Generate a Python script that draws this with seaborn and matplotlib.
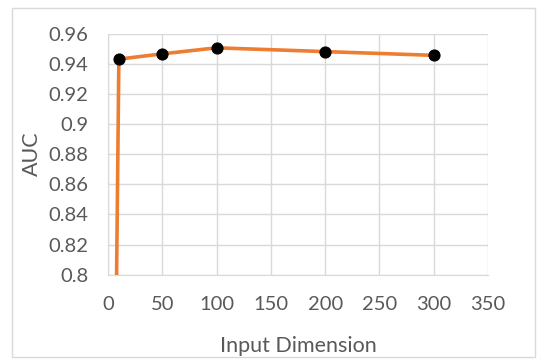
import matplotlib
matplotlib.use("Agg")
import matplotlib.pyplot as plt
import seaborn as sns
from matplotlib.patches import Rectangle
from matplotlib.ticker import FuncFormatter

# valores (el primer punto queda fuera del eje, recortado)
input_dim = [5, 10, 50, 100, 200, 300]
auc = [0.6, 0.943, 0.9465, 0.9505, 0.948, 0.9455]

sns.set_style("white")
plt.rcParams["font.family"] = ["Lato", "DejaVu Sans"]
gray = "#595959"
grid = "#d9d9d9"

fig = plt.figure(figsize=(5.47, 3.59), dpi=100)
ax = fig.add_axes([108 / 547, 1 - 274.7 / 359, 380 / 547, 241.2 / 359])

sns.lineplot(x=input_dim, y=auc, ax=ax, color="#ED7D31", linewidth=2.6,
             marker="o", markersize=8, markerfacecolor="black",
             markeredgecolor="black", zorder=3)

ax.set_xlim(0, 350)
ax.set_ylim(0.8, 0.96)
ax.set_xticks(range(0, 351, 50))
ax.set_yticks([0.8 + 0.02 * i for i in range(9)])
ax.yaxis.set_major_formatter(FuncFormatter(lambda v, p: f"{v:.2f}".rstrip("0")))
ax.grid(True, color=grid, linewidth=1)
ax.set_axisbelow(True)
for s in ax.spines.values():
    s.set_visible(False)
ax.spines["left"].set_visible(True)
ax.spines["left"].set_color(grid)
ax.spines["bottom"].set_visible(True)
ax.spines["bottom"].set_color(grid)
ax.tick_params(axis="y", length=0, labelsize=14.5, labelcolor=gray, pad=14)
ax.tick_params(axis="x", length=0, labelsize=14.5, labelcolor=gray, pad=15)
ax.set_xlabel("Input Dimension", fontsize=15.5, color=gray, labelpad=17)
ax.set_ylabel("AUC", fontsize=15.5, color=gray, labelpad=5)

fig.patches.append(Rectangle((12 / 547, 2 / 359), 523 / 547, 349 / 359,
                             transform=fig.transFigure, fill=False,
                             edgecolor="#d9d9d9", linewidth=1))

fig.savefig("out.png", dpi=100)
